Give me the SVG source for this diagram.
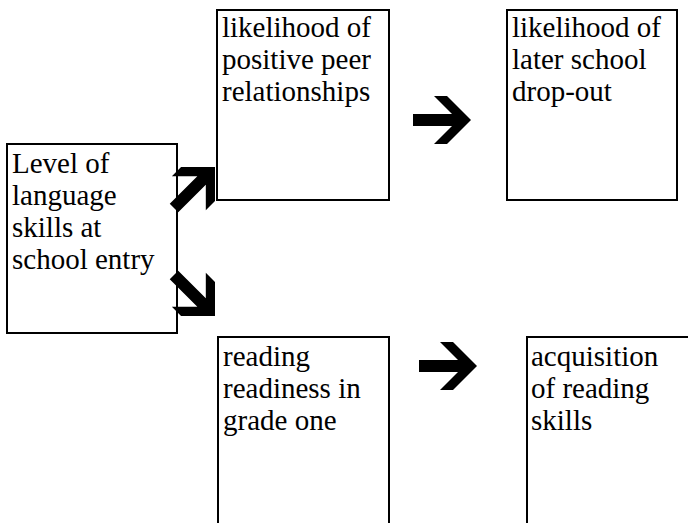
<svg xmlns="http://www.w3.org/2000/svg" width="688" height="523" viewBox="0 0 688 523">
<style>
.box{fill:#fff;stroke:#000;stroke-width:2}
.t{font-family:"Liberation Serif","Times New Roman",serif;font-size:29px;fill:#000}
.arr{fill:#000}
</style>
<defs>
<path id="a" d="M0,0 L-24,-24 L-37,-24 L-19,-6 L-58,-6 L-58,6 L-19,6 L-37,24 L-24,24 Z"/>
</defs>
<rect width="688" height="523" fill="#fff"/>
<g id="n1">
<rect class="box" x="7" y="144" width="170" height="189"/>
<text class="t" x="12" y="173">Level of</text>
<text class="t" x="12" y="205">language</text>
<text class="t" x="12" y="237">skills at</text>
<text class="t" x="12" y="269">school entry</text>
</g>
<g id="n2">
<rect class="box" x="217" y="10" width="172" height="190"/>
<text class="t" x="222" y="37">likelihood of</text>
<text class="t" x="222" y="69">positive peer</text>
<text class="t" x="222" y="101">relationships</text>
</g>
<g id="n3">
<rect class="box" x="507" y="10" width="170" height="190"/>
<text class="t" x="512" y="37">likelihood of</text>
<text class="t" x="512" y="69">later school</text>
<text class="t" x="512" y="101">drop-out</text>
</g>
<g id="n4">
<rect class="box" x="218" y="337" width="171" height="200"/>
<text class="t" x="223" y="366">reading</text>
<text class="t" x="223" y="398">readiness in</text>
<text class="t" x="223" y="430">grade one</text>
</g>
<g id="n5">
<rect class="box" x="527" y="337" width="200" height="200"/>
<text class="t" x="531" y="366">acquisition</text>
<text class="t" x="531" y="398">of reading</text>
<text class="t" x="531" y="430">skills</text>
</g>
<g id="connectors" class="arr">
<use href="#a" transform="translate(215,167) rotate(-45)"/>
<use href="#a" transform="translate(215,316) rotate(45)"/>
<use href="#a" transform="translate(471,120)"/>
<use href="#a" transform="translate(477,366)"/>
</g>
</svg>
